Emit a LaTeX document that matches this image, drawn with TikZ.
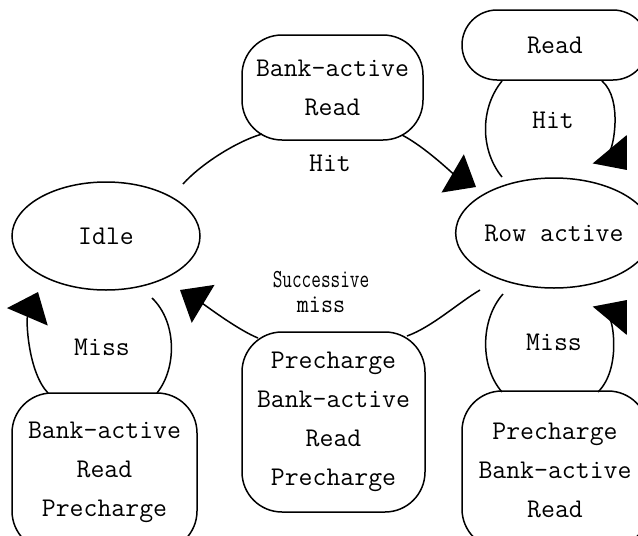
\documentclass[tikz,border=0pt]{standalone}
\usepackage{fontspec}
\usetikzlibrary{arrows.meta,shapes.geometric}
\begin{document}
\begin{tikzpicture}[x=1pt,y=-1pt,
  every node/.style={font=\ttfamily\fontsize{27}{39}\selectfont, inner sep=0pt},
  state/.style={draw, ellipse, line width=1.5pt},
  act/.style={draw, rectangle, rounded corners=40pt, line width=1.5pt, align=center},
  lbl/.style={align=center},
  conn/.style={line width=1.5pt},
  arr/.style={conn, -{Triangle[length=27pt,width=44pt]}}]
\useasboundingbox (0,0) rectangle (638,536);
% states
\node[state, minimum width=188pt, minimum height=108pt] (idle) at (106,236) {Idle};
\node[state, minimum width=184pt, minimum height=110pt] (row) at (554,233) {Row active};
% action boxes
\node[act, minimum width=181pt, minimum height=105pt] (ba) at (332.5,87.5) {Bank-active\\Read};
\node[act, rounded corners=35pt, minimum width=186pt, minimum height=70pt] (rd) at (555,45) {Read};
\node[act, minimum width=185pt, minimum height=158pt] (bl) at (104.5,472) {Bank-active\\Read\\Precharge};
\node[act, minimum width=183pt, minimum height=180pt] (mid) at (333.5,422) {Precharge\\Bank-active\\Read\\Precharge};
\node[act, minimum width=186pt, minimum height=158pt] (br) at (555,470) {Precharge\\Bank-active\\Read};
% labels
\node[lbl] (hit1) at (330,163) {Hit};
\node[lbl] (hit2) at (553,120) {Hit};
\node[lbl, font=\ttfamily\fontsize{26}{25}\selectfont] (succ) at (321,292) {\scalebox{0.72}[1]{Successive}\\\scalebox{0.9}[1]{miss}};
\node[lbl] (miss1) at (102,347) {Miss};
\node[lbl] (miss2) at (554,342) {Miss};
% connector end points (Graphviz-style gaps near the ellipses)
\coordinate (e1s) at (183,184);  \coordinate (e1t) at (262,134);
\coordinate (e2s) at (402,135);  \coordinate (e2t) at (476,187);
\coordinate (e3s) at (502,177);  \coordinate (e3t) at (502,81);
\coordinate (e4s) at (602,81);   \coordinate (e4t) at (627,170);
\coordinate (e5s) at (480,290);  \coordinate (e5t) at (407,336);
\coordinate (e6s) at (258,338);  \coordinate (e6t) at (180,290);
\coordinate (e7s) at (503,294);  \coordinate (e7t) at (502,392);
\coordinate (e8s) at (598,392);  \coordinate (e8t) at (627,300);
\coordinate (e9s) at (152,298);  \coordinate (e9t) at (157,393);
\coordinate (e10s) at (48,393);  \coordinate (e10t) at (38,292);
% Idle -> Bank-active Read -> Row active (Hit)
\draw[conn] (e1s) .. controls (200,165) and (235,142) .. (e1t);
\draw[arr] (e2s) .. controls (425,147) and (452,173) .. (e2t);
% Row active -> Read -> Row active (Hit)
\draw[conn] (e3s) .. controls (480,150) and (480,108) .. (e3t);
\draw[arr] (e4s) .. controls (624,100) and (612,152) .. (e4t);
% Row active -> Precharge... -> Idle (Successive miss)
\draw[conn] (e5s) .. controls (458,303) and (432,327) .. (e5t);
\draw[arr] (e6s) .. controls (238,330) and (205,305) .. (e6t);
% Row active -> Precharge Bank-active Read -> Row active (Miss)
\draw[conn] (e7s) .. controls (480,320) and (480,367) .. (e7t);
\draw[arr] (e8s) .. controls (622,368) and (612,318) .. (e8t);
% Idle -> Bank-active Read Precharge -> Idle (Miss)
\draw[conn] (e9s) .. controls (177,322) and (177,368) .. (e9t);
\draw[arr] (e10s) .. controls (28,372) and (26,320) .. (e10t);
\end{tikzpicture}
\end{document}
